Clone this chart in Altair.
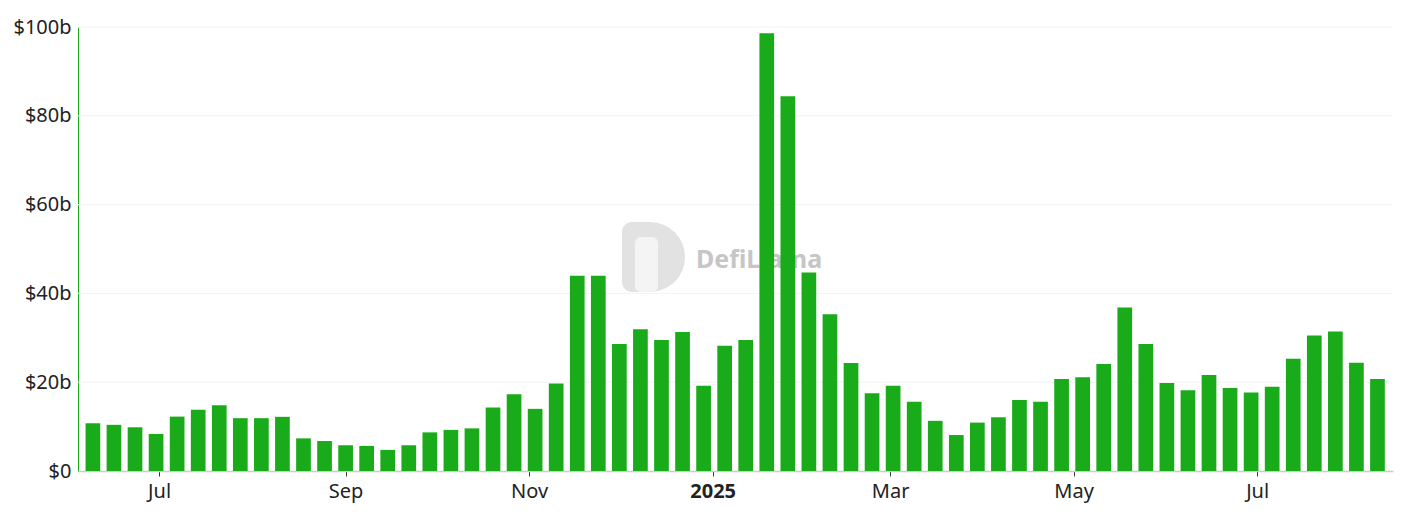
import altair as alt
import pandas as pd

# weekly bars (week start dates) and values in $ billions
start_week = "2024-06-09"
n_weeks = 62
volumes_b = [10.75, 10.4, 9.85, 8.35, 12.25, 13.8, 14.8, 11.9, 11.9, 12.2,
             7.35, 6.75, 5.8, 5.65, 4.75, 5.8, 8.7, 9.25, 9.6, 14.3,
             17.3, 14.0, 19.7, 44.0, 44.0, 28.6, 31.9, 29.5, 31.3, 19.2,
             28.2, 29.5, 98.6, 84.4, 44.7, 35.3, 24.3, 17.5, 19.2, 15.6,
             11.3, 8.1, 10.9, 12.1, 16.0, 15.6, 20.7, 21.1, 24.1, 36.8,
             28.6, 19.8, 18.2, 21.6, 18.7, 17.7, 19.0, 25.3, 30.5, 31.4,
             24.4, 20.7]
y_ticks = [0, 20, 40, 60, 80, 100]
x_tick_dates = [(2024, 7), (2024, 9), (2024, 11), (2025, 1), (2025, 3), (2025, 5), (2025, 7)]

dates = pd.date_range(start_week, periods=n_weeks, freq="7D")
df = pd.DataFrame({"date": dates.strftime("%Y-%m-%d"), "value": volumes_b})
grid_df = pd.DataFrame({"value": y_ticks[1:]})

GREEN = "#1aab1b"
FONT = "Noto Sans"

x_scale = alt.Scale(
    type="utc",
    domain=[alt.DateTime(year=2024, month=6, date=5, hours=17, utc=True),
            alt.DateTime(year=2025, month=8, date=13, hours=12, utc=True)],
)
y_scale = alt.Scale(domain=[0, 100], nice=False)
y_axis = alt.Axis(
    values=y_ticks,
    labelExpr="datum.value == 0 ? '$0' : '$' + datum.value + 'b'",
    grid=False, ticks=False,
    domainColor=GREEN, labelPadding=7,
    labelFontSize=20, labelColor="#222222", labelFont=FONT,
)

grid = alt.Chart(grid_df).mark_rule(color="#f3f3f3", strokeWidth=1).encode(
    y=alt.Y("value:Q", scale=y_scale, title=None, axis=y_axis),
    x=alt.value(0), x2=alt.value(1314),
)

bars = alt.Chart(df).mark_bar(color=GREEN, width=14.7).encode(
    x=alt.X("date:T", scale=x_scale, title=None,
            axis=alt.Axis(
                values=[alt.DateTime(year=y, month=m, date=1, utc=True) for y, m in x_tick_dates],
                labelExpr="utcmonth(datum.value) == 0 ? utcFormat(datum.value, '%Y') : utcFormat(datum.value, '%b')",
                labelFontWeight={"condition": {"test": "utcmonth(datum.value) === 0", "value": "bold"}, "value": "normal"},
                grid=False, domainColor="#cccccc", domainWidth=1.5,
                tickColor="#333333", tickSize=5, labelPadding=5,
                labelFontSize=20, labelColor="#222222", labelFont=FONT,
            )),
    y=alt.Y("value:Q", scale=y_scale, title=None, axis=y_axis),
)

wm_data = alt.Data(values=[{"t": "DefiLlama"}])
logo_rect = alt.Chart(wm_data).mark_rect(
    color="#e2e2e2", cornerRadiusTopLeft=10, cornerRadiusBottomLeft=10
).encode(x=alt.value(544), x2=alt.value(573), y=alt.value(195), y2=alt.value(265))
logo_arc = alt.Chart(wm_data).mark_arc(color="#e2e2e2").encode(
    x=alt.value(572), y=alt.value(230), theta=alt.value(0), theta2=alt.value(3.14159),
    radius=alt.value(35),
)
logo_head = alt.Chart(wm_data).mark_rect(color="#f4f4f4", cornerRadius=6).encode(
    x=alt.value(557), x2=alt.value(580), y=alt.value(210), y2=alt.value(265))
wm_text = alt.Chart(wm_data).mark_text(
    align="left", baseline="middle", fontSize=25, fontWeight="bold",
    color="#c6c6c6", font=FONT,
).encode(x=alt.value(618), y=alt.value(233), text="t:N")

chart = alt.layer(grid, logo_rect, logo_arc, logo_head, wm_text, bars).properties(
    width=1315, height=444,
    background="white",
    autosize=alt.AutoSizeParams(type="none"),
    padding={"left": 70, "top": 19, "right": 10, "bottom": 40},
).configure_view(stroke="transparent", strokeWidth=0)

chart.save("out.html", embed_options={"renderer": "svg", "actions": False})
